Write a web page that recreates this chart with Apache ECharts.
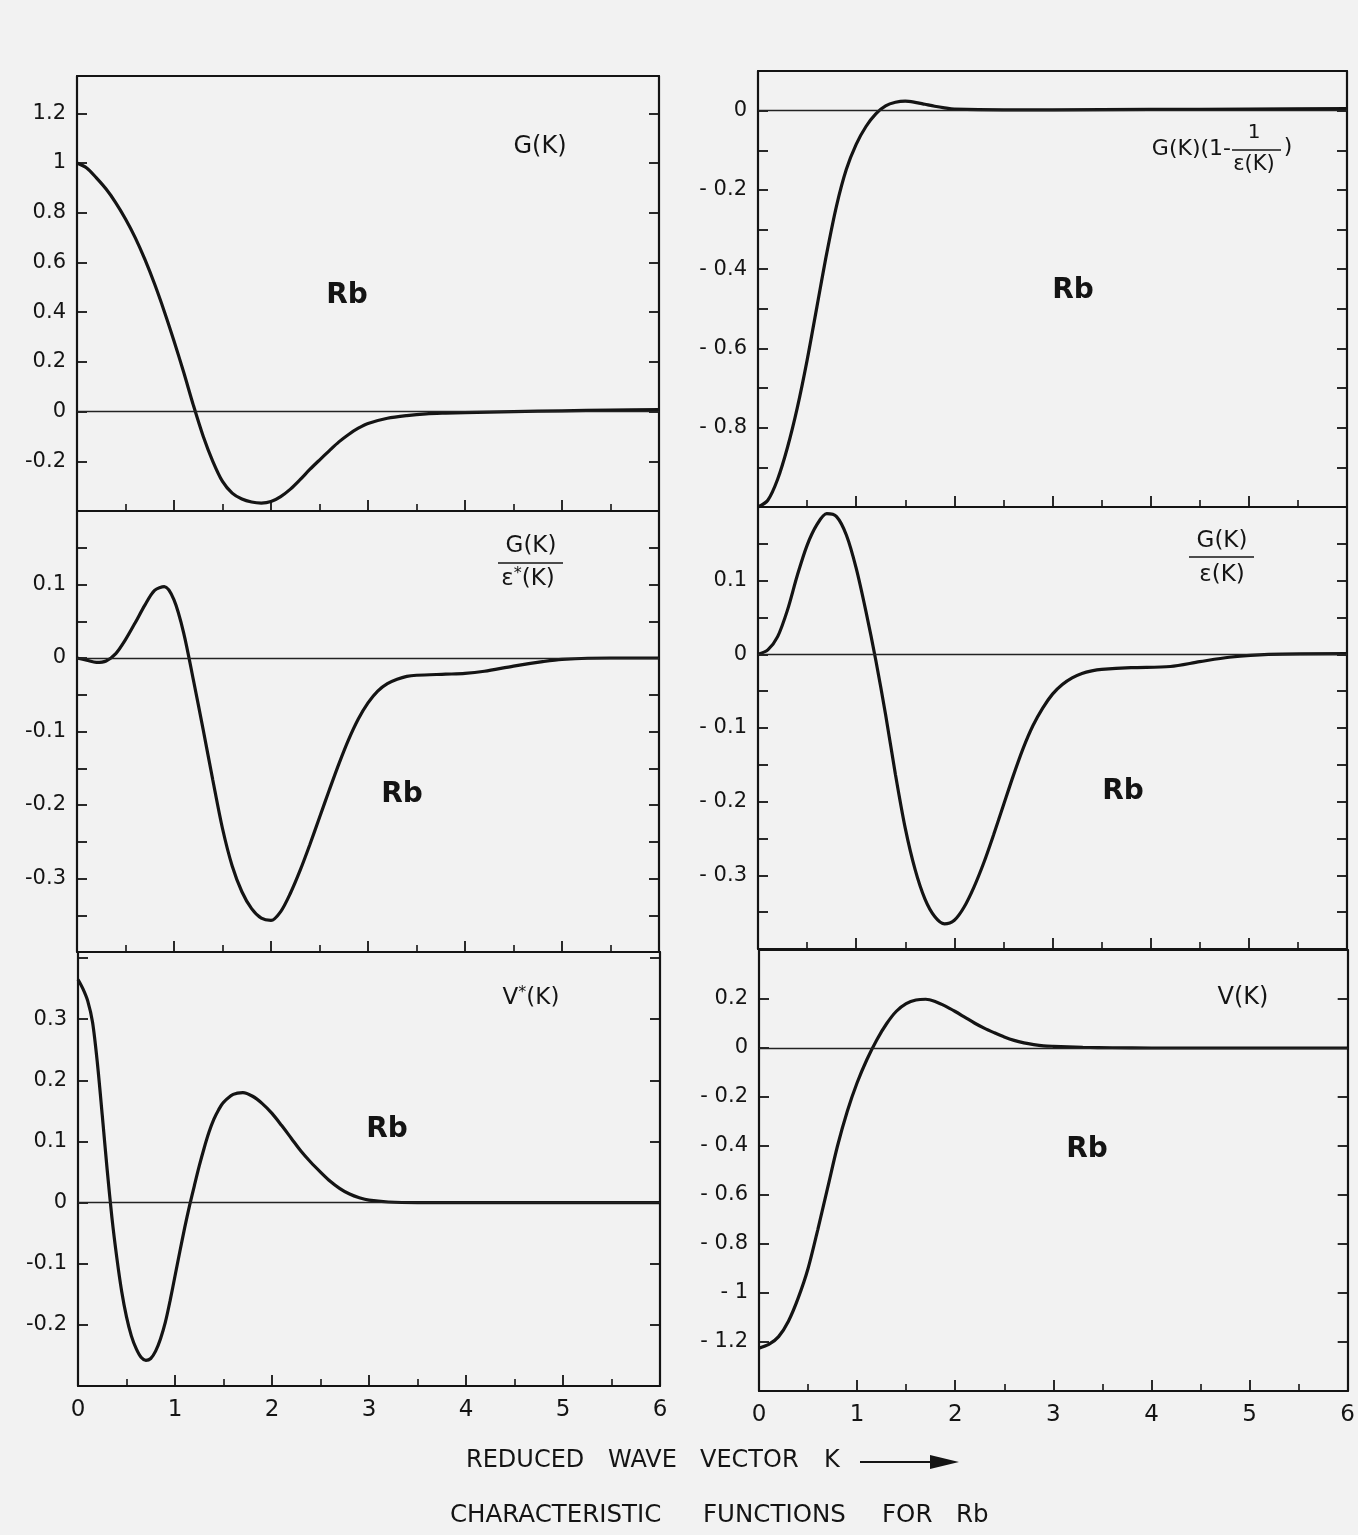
<!DOCTYPE html>
<html>
<head>
<meta charset="utf-8">
<script src="https://cdn.jsdelivr.net/npm/echarts@6/dist/echarts.min.js"></script>
<style>
  html, body { margin: 0; padding: 0; background: #f2f2f2; }
  #chart { width: 1358px; height: 1535px; }
</style>
</head>
<body>
<div id="chart"></div>
<script>
// Characteristic functions of Rb against the reduced wave vector K.

// G(K)
const K_G = [0, 0.1, 0.2, 0.3, 0.4, 0.5, 0.6, 0.7, 0.8, 0.9, 1.0, 1.1, 1.2, 1.3, 1.4, 1.5, 1.6, 1.7, 1.8, 1.9,
  2.0, 2.1, 2.2, 2.3, 2.4, 2.5, 2.6, 2.7, 2.8, 2.9, 3.0, 3.2, 3.4, 3.6, 3.8, 4.0, 4.5, 5.0, 5.5, 6.0];
const G = [1.0, 0.98, 0.94, 0.895, 0.84, 0.775, 0.70, 0.612, 0.513, 0.403, 0.284, 0.158, 0.025, -0.098, -0.2, -0.281, -0.328, -0.352, -0.364, -0.368,
  -0.362, -0.342, -0.312, -0.274, -0.233, -0.195, -0.158, -0.122, -0.092, -0.067, -0.048, -0.027, -0.016, -0.009, -0.006, -0.004, 0.0, 0.003, 0.006, 0.008];

// G(K)(1 - 1/eps(K))
const K_GX = [0, 0.1, 0.2, 0.3, 0.4, 0.5, 0.6, 0.7, 0.8, 0.9, 1.0, 1.1, 1.2, 1.3, 1.4, 1.5, 1.6, 1.7, 1.8, 1.9, 2.0, 2.5, 3.0, 4.0, 5.0, 6.0];
const GX = [-1.0, -0.983, -0.93, -0.85, -0.75, -0.63, -0.495, -0.36, -0.24, -0.148, -0.085, -0.04, -0.008, 0.012, 0.021, 0.024, 0.021, 0.016, 0.011, 0.007, 0.004, 0.002, 0.002, 0.003, 0.004, 0.005];

// G(K)/eps*(K)
const K_GES = [0, 0.1, 0.2, 0.3, 0.4, 0.5, 0.6, 0.7, 0.8, 0.9, 1.0, 1.1, 1.2, 1.3, 1.4, 1.5, 1.6, 1.7, 1.8, 1.9,
  2.0, 2.1, 2.2, 2.3, 2.4, 2.5, 2.6, 2.7, 2.8, 2.9, 3.0, 3.1, 3.2, 3.3, 3.4, 3.5, 3.8, 4.0, 4.2, 4.5, 4.8, 5.0, 5.5, 6.0];
const GES = [0, -0.003, -0.006, -0.004, 0.006, 0.025, 0.048, 0.072, 0.092, 0.097, 0.079, 0.034, -0.03, -0.097, -0.166, -0.232, -0.283, -0.318, -0.341, -0.354,
  -0.357, -0.345, -0.32, -0.289, -0.254, -0.217, -0.18, -0.144, -0.111, -0.083, -0.061, -0.045, -0.035, -0.029, -0.025, -0.0235, -0.022, -0.021, -0.018, -0.011, -0.005, -0.002, 0, 0];

// G(K)/eps(K)
const K_GE = [0, 0.1, 0.2, 0.3, 0.4, 0.5, 0.6, 0.7, 0.8, 0.9, 1.0, 1.1, 1.2, 1.3, 1.4, 1.5, 1.6, 1.7, 1.8, 1.9,
  2.0, 2.1, 2.2, 2.3, 2.4, 2.5, 2.6, 2.7, 2.8, 2.9, 3.0, 3.1, 3.2, 3.3, 3.4, 3.5, 3.8, 4.2, 4.5, 4.8, 5.2, 6.0];
const GE = [0, 0.006, 0.024, 0.06, 0.107, 0.148, 0.176, 0.191, 0.187, 0.162, 0.117, 0.058, -0.008, -0.082, -0.163, -0.236, -0.292, -0.332, -0.356, -0.366,
  -0.361, -0.343, -0.316, -0.283, -0.245, -0.205, -0.165, -0.128, -0.097, -0.073, -0.054, -0.041, -0.032, -0.026, -0.0225, -0.0205, -0.018, -0.0165, -0.01, -0.004, 0, 0.001];

// V*(K)
const K_VS = [0, 0.05, 0.1, 0.15, 0.2, 0.25, 0.3, 0.35, 0.4, 0.45, 0.5, 0.55, 0.6, 0.65, 0.7, 0.75, 0.8, 0.85, 0.9, 0.95,
  1.0, 1.05, 1.1, 1.15, 1.2, 1.25, 1.3, 1.35, 1.4, 1.45, 1.5, 1.6, 1.7, 1.8, 1.9,
  2.0, 2.1, 2.2, 2.3, 2.4, 2.5, 2.6, 2.7, 2.8, 2.9, 3.0, 3.2, 3.5, 4.0, 5.0, 6.0];
const VS = [0.365, 0.35, 0.33, 0.295, 0.228, 0.143, 0.055, -0.025, -0.09, -0.145, -0.187, -0.218, -0.239, -0.253, -0.258, -0.255, -0.243, -0.223, -0.196, -0.16,
  -0.12, -0.08, -0.041, -0.005, 0.028, 0.06, 0.089, 0.115, 0.136, 0.152, 0.164, 0.177, 0.18, 0.174, 0.162,
  0.146, 0.126, 0.105, 0.084, 0.066, 0.05, 0.035, 0.023, 0.014, 0.008, 0.004, 0.001, 0, 0, 0, 0];

// V(K)
const K_V = [0, 0.1, 0.2, 0.3, 0.4, 0.5, 0.6, 0.7, 0.8, 0.9, 1.0, 1.1, 1.2, 1.3, 1.4, 1.5, 1.6, 1.7, 1.8, 1.9,
  2.0, 2.1, 2.2, 2.3, 2.4, 2.5, 2.6, 2.7, 2.8, 2.9, 3.0, 3.3, 3.6, 4.0, 5.0, 6.0];
const V = [-1.225, -1.21, -1.178, -1.115, -1.02, -0.9, -0.74, -0.57, -0.4, -0.258, -0.142, -0.047, 0.033, 0.099, 0.15, 0.181, 0.196, 0.199, 0.189, 0.171,
  0.149, 0.125, 0.101, 0.08, 0.062, 0.045, 0.031, 0.021, 0.014, 0.009, 0.007, 0.003, 0.001, 0, 0, 0];

// labelled y ticks of each panel
const TICKS_G = [1.2, 1, 0.8, 0.6, 0.4, 0.2, 0, -0.2];
const TICKS_GX = [0, -0.2, -0.4, -0.6, -0.8];
const TICKS_GES = [0.1, 0, -0.1, -0.2, -0.3];
const TICKS_GE = [0.1, 0, -0.1, -0.2, -0.3];
const TICKS_VS = [0.3, 0.2, 0.1, 0, -0.1, -0.2];
const TICKS_V = [0.2, 0, -0.2, -0.4, -0.6, -0.8, -1, -1.2];
// labelled K ticks
const K_TICKS = [0, 1, 2, 3, 4, 5, 6];

const FONT = "'DejaVu Sans', 'Liberation Sans', sans-serif";
const INK = '#141414';

const panels = [
  { k: K_G,   v: G,   ticks: TICKS_G,   min: -0.4, max: 1.35, step: 0.2,  spaced: false, xLabels: false, box: [77, 76, 582, 435] },
  { k: K_GES, v: GES, ticks: TICKS_GES, min: -0.4, max: 0.2,  step: 0.05, spaced: false, xLabels: false, box: [77, 511, 582, 441] },
  { k: K_VS,  v: VS,  ticks: TICKS_VS,  min: -0.3, max: 0.41, step: 0.1,  spaced: false, xLabels: true,  box: [78, 952, 582, 434] },
  { k: K_GX,  v: GX,  ticks: TICKS_GX,  min: -1.0, max: 0.1,  step: 0.1,  spaced: true,  xLabels: false, box: [758, 71, 589, 436] },
  { k: K_GE,  v: GE,  ticks: TICKS_GE,  min: -0.4, max: 0.2,  step: 0.05, spaced: true,  xLabels: false, box: [758, 507, 589, 442] },
  { k: K_V,   v: V,   ticks: TICKS_V,   min: -1.4, max: 0.4,  step: 0.2,  spaced: true,  xLabels: true,  box: [759, 950, 589, 441] }
];

function fmtValue(v, spaced) {
  const s = String(Math.round(Math.abs(v) * 100) / 100);
  if (v < -1e-9) return (spaced ? '- ' : '-') + s;
  return s;
}

const grid = [], xAxis = [], yAxis = [], series = [];
panels.forEach((p, i) => {
  grid.push({ left: p.box[0], top: p.box[1], width: p.box[2], height: p.box[3], containLabel: false });
  // bottom K axis with half-unit minor ticks
  xAxis.push({
    type: 'value', gridIndex: i, position: 'bottom', min: 0, max: 6, interval: 1,
    axisLine: { show: true, onZero: false, lineStyle: { color: INK, width: 2.2 } },
    axisTick: { show: true, inside: true, length: 11, lineStyle: { color: INK, width: 1.8 } },
    minorTick: { show: true, splitNumber: 2, length: 7, lineStyle: { color: INK, width: 1.6 } },
    axisLabel: {
      show: p.xLabels, color: INK, fontSize: 23, fontFamily: FONT, margin: 13,
      formatter: v => K_TICKS.some(t => Math.abs(t - v) < 1e-6) ? String(Math.round(v)) : ''
    },
    splitLine: { show: false }
  });
  // top frame edge
  xAxis.push({
    type: 'value', gridIndex: i, position: 'top', min: 0, max: 6,
    axisLine: { show: true, onZero: false, lineStyle: { color: INK, width: 2.2 } },
    axisTick: { show: false }, axisLabel: { show: false }, splitLine: { show: false }
  });
  const labelFmt = v => p.ticks.some(t => Math.abs(t - v) < 1e-6) ? fmtValue(v, p.spaced) : '';
  yAxis.push({
    type: 'value', gridIndex: i, position: 'left', min: p.min, max: p.max, interval: p.step,
    axisLine: { show: true, onZero: false, lineStyle: { color: INK, width: 2.2 } },
    axisTick: { show: true, inside: true, length: 10, lineStyle: { color: INK, width: 1.8 } },
    axisLabel: { show: true, color: INK, fontSize: 21, fontFamily: FONT, margin: 11, formatter: labelFmt },
    splitLine: { show: false }
  });
  yAxis.push({
    type: 'value', gridIndex: i, position: 'right', min: p.min, max: p.max, interval: p.step,
    axisLine: { show: true, onZero: false, lineStyle: { color: INK, width: 2.2 } },
    axisTick: { show: true, inside: true, length: 10, lineStyle: { color: INK, width: 1.8 } },
    axisLabel: { show: false },
    splitLine: { show: false }
  });
  series.push({
    type: 'line',
    xAxisIndex: 2 * i, yAxisIndex: 2 * i,
    data: p.k.map((k, j) => [k, p.v[j]]),
    symbol: 'none', showSymbol: false,
    smooth: 0.3,
    lineStyle: { color: INK, width: 3.2 },
    emphasis: { disabled: true },
    markLine: {
      silent: true, symbol: ['none', 'none'], label: { show: false },
      lineStyle: { color: '#222', width: 1.3, type: 'solid' },
      emphasis: { disabled: true },
      data: [{ yAxis: 0 }]
    }
  });
});

function txt(text, x, y, size, opts) {
  return Object.assign({
    type: 'text', x: x, y: y, silent: true,
    style: Object.assign({
      text: text, fill: INK, font: size + 'px ' + FONT,
      align: 'center', verticalAlign: 'middle'
    }, (opts && opts.style) || {})
  }, (opts && opts.el) || {});
}
function bold(text, x, y) {
  return txt(text, x, y, 28, { style: { font: 'bold 28px ' + FONT } });
}
function bar(x1, x2, y) {
  return { type: 'line', silent: true, shape: { x1: x1, y1: y, x2: x2, y2: y }, style: { stroke: INK, lineWidth: 1.6 } };
}
function starred(base, x, y) {
  // letter with a raised asterisk followed by "(K)"
  return {
    type: 'text', x: x, y: y, silent: true,
    style: {
      text: '{a|' + base + '}{s|*}{a|(K)}',
      align: 'center', verticalAlign: 'middle',
      rich: {
        a: { fontSize: 23, fontFamily: FONT, fill: INK, color: INK },
        s: { fontSize: 16, fontFamily: FONT, fill: INK, color: INK, verticalAlign: 'top', padding: [0, 0, 10, 0] }
      }
    }
  };
}

const graphic = [
  // panel captions
  txt('G(K)', 540, 147, 24),
  bold('Rb', 347, 296),

  txt('G(K)', 531, 546, 23),
  bar(498, 563, 563),
  starred('ε', 528, 579),
  bold('Rb', 402, 795),

  starred('V', 531, 998),
  bold('Rb', 387, 1130),

  txt('G(K)(1-', 1231, 149, 22, { style: { align: 'right' } }),
  txt('1', 1254, 133, 20),
  bar(1232, 1281, 150),
  txt('ε(K)', 1254, 165, 21),
  txt(')', 1288, 147, 22),
  bold('Rb', 1073, 291),

  txt('G(K)', 1222, 541, 23),
  bar(1189, 1254, 557),
  txt('ε(K)', 1222, 575, 23),
  bold('Rb', 1123, 792),

  txt('V(K)', 1243, 998, 24),
  bold('Rb', 1087, 1150),

  // axis caption with arrow
  txt('REDUCED', 466, 1461, 24, { style: { align: 'left' } }),
  txt('WAVE', 608, 1461, 24, { style: { align: 'left' } }),
  txt('VECTOR', 700, 1461, 24, { style: { align: 'left' } }),
  txt('K', 824, 1461, 24, { style: { align: 'left' } }),
  { type: 'line', silent: true, shape: { x1: 860, y1: 1462, x2: 936, y2: 1462 }, style: { stroke: INK, lineWidth: 2.2 } },
  { type: 'polygon', silent: true, shape: { points: [[930, 1455], [959, 1462], [930, 1469]] }, style: { fill: INK } },

  // figure caption
  txt('CHARACTERISTIC', 450, 1516, 24.5, { style: { align: 'left' } }),
  txt('FUNCTIONS', 703, 1516, 24.5, { style: { align: 'left' } }),
  txt('FOR', 882, 1516, 24.5, { style: { align: 'left' } }),
  txt('Rb', 956, 1516, 24.5, { style: { align: 'left' } })
];

const chart = echarts.init(document.getElementById('chart'), null, { renderer: 'canvas' });
chart.setOption({
  backgroundColor: '#f2f2f2',
  animation: false,
  grid: grid,
  xAxis: xAxis,
  yAxis: yAxis,
  series: series,
  graphic: graphic
});
</script>
</body>
</html>
